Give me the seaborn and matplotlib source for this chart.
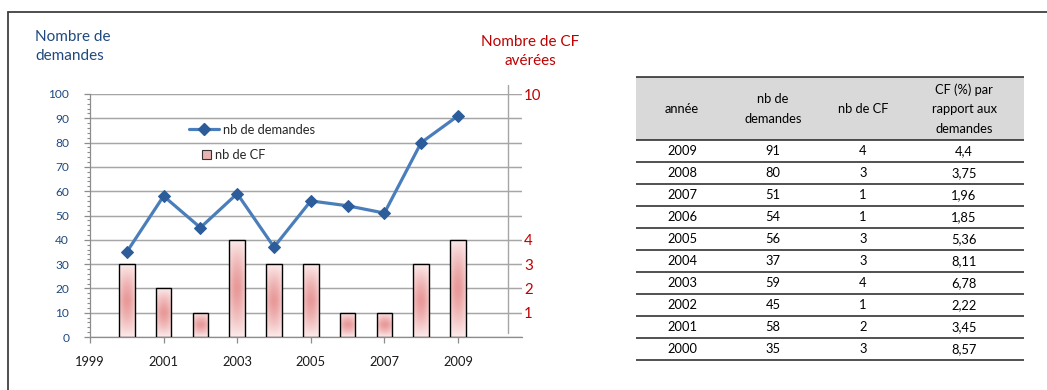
import numpy as np
import matplotlib
matplotlib.use("Agg")
import matplotlib.pyplot as plt
import seaborn as sns
import pandas as pd
from matplotlib.lines import Line2D
from matplotlib.patches import Rectangle, Patch
from matplotlib.ticker import MultipleLocator

# --- data ---------------------------------------------------------------
annees = [2000, 2001, 2002, 2003, 2004, 2005, 2006, 2007, 2008, 2009]
demandes = [35, 58, 45, 59, 37, 56, 54, 51, 80, 91]
nb_cf = [3, 2, 1, 4, 3, 3, 1, 1, 3, 4]
pct_cf = ["8,57", "3,45", "2,22", "6,78", "8,11", "5,36", "1,85", "1,96", "3,75", "4,4"]
x_ticks = [1999, 2001, 2003, 2005, 2007, 2009]
cf_tick_labels = [1, 2, 3, 4, 10]
table_headers = ["année", "nb de\ndemandes", "nb de CF", "CF (%) par\nrapport aux\ndemandes"]

sns.set_theme(style="white")
plt.rcParams["font.family"] = ["Lato", "DejaVu Sans"]

BLUE_TXT = "#1f497d"
RED_TXT = "#c00000"
GRID = "#a6a6a6"
AXIS = "#8c8c8c"

W, H = 1047, 390
fig = plt.figure(figsize=(W / 100, H / 100), dpi=100)


def fx(px):
    return px / W


def fy(py):
    return 1 - py / H


df = pd.DataFrame({"annee": annees, "demandes": demandes, "cf": nb_cf})

# --- bars: number of confirmed CF (right scale 0-10) ---------------------
ax = fig.add_axes([fx(90), fy(337), fx(522) - fx(90), fy(94) - fy(337)])
sns.barplot(data=df, x="annee", y="cf", native_scale=True, width=0.42, ax=ax,
            color="#eab3b3", edgecolor="black", linewidth=1.0, errorbar=None)

# soft pink fill, deeper in the middle of each bar
ny, nx = 80, 20
v = np.linspace(-1, 1, ny)[:, None]
u = np.linspace(-1, 1, nx)[None, :]
t = (1 - np.abs(v) ** 1.4) * (1 - 0.55 * np.abs(u) ** 2)
light = np.array([0.99, 0.92, 0.92])
deep = np.array([0.91, 0.60, 0.60])
grad = light + (deep - light) * t[..., None]
for p in list(ax.patches):
    x0, y0, w, h = p.get_x(), p.get_y(), p.get_width(), p.get_height()
    im = ax.imshow(grad, extent=[x0, x0 + w, y0, y0 + h], aspect="auto",
                   origin="lower", zorder=2.6, interpolation="bilinear")
    im.set_clip_path(p)
    p.set_facecolor("none")
    p.set_zorder(3)

# --- line: number of requests (left scale 0-100) -------------------------
axl = ax.twinx()
sns.lineplot(data=df, x="annee", y="demandes", ax=axl, color="#4a7ebb", lw=2.3,
             marker="D", markersize=6.5, markerfacecolor="#2c5d9a",
             markeredgecolor="#2c5d9a", zorder=5)

# the line axes sits underneath and carries the white background and grid
axl.set_zorder(ax.get_zorder() - 1)
axl.patch.set_visible(True)
axl.patch.set_facecolor("white")
ax.patch.set_visible(False)

# right-hand scale (bars)
ax.set_ylim(0, 10)
ax.set_yticks(range(0, 11))
ax.set_yticklabels([str(k) if k in cf_tick_labels else "" for k in range(11)])
ax.yaxis.set_ticks_position("right")
ax.yaxis.set_label_position("right")
ax.tick_params(axis="y", length=0, pad=1.5, labelcolor=RED_TXT, labelsize=10.8,
               labelright=True, labelleft=False)
ax.set_xticks(x_ticks)
ax.set_xticklabels([str(k) for k in x_ticks])
ax.tick_params(axis="x", direction="out", length=4, width=0.9, color=AXIS,
               pad=10, labelsize=9.3, labelcolor="#1a1a1a", bottom=True)
for side in ["top", "right", "left"]:
    ax.spines[side].set_visible(False)
ax.spines["bottom"].set_color(AXIS)
ax.spines["bottom"].set_linewidth(0.9)
ax.set_xlabel("")
ax.set_ylabel("")
ax.axvline(2010.36, ymin=0.016, ymax=1.037, color=GRID, lw=1.0, clip_on=False)

# left-hand scale (line)
axl.set_ylim(0, 100)
axl.yaxis.set_ticks_position("left")
axl.yaxis.set_label_position("left")
axl.yaxis.set_major_locator(MultipleLocator(10))
axl.yaxis.set_minor_locator(MultipleLocator(2))
axl.tick_params(axis="y", which="major", direction="out", length=4, width=0.9,
                color=AXIS, pad=11, labelsize=8.6, labelcolor=BLUE_TXT,
                left=True, right=False, labelleft=True, labelright=False)
axl.tick_params(axis="y", which="minor", direction="out", length=2.5, width=0.8,
                color=AXIS, left=True, right=False)
axl.yaxis.grid(True, which="major", color=GRID, lw=0.9)
for yv in range(0, 101, 10):
    axl.axhline(yv, color=GRID, lw=0.9, zorder=1)
for side in ["top", "right", "bottom"]:
    axl.spines[side].set_visible(False)
axl.spines["left"].set_visible(True)
axl.spines["left"].set_color(AXIS)
axl.spines["left"].set_linewidth(0.9)
axl.set_xlabel("")
axl.set_ylabel("")
ax.set_xlim(1999, 2010.74)

# legends
h_line = Line2D([], [], color="#4a7ebb", lw=2.3, marker="D", markersize=6.5,
                markerfacecolor="#2c5d9a", markeredgecolor="#2c5d9a")
h_bar = Patch(facecolor="#eab3b3", edgecolor="#333333", lw=0.8)
leg1 = ax.legend(handles=[h_line], labels=["nb de demandes"], loc="center left",
                 bbox_to_anchor=(0.229, 0.852), frameon=False, borderpad=0,
                 borderaxespad=0, handlelength=2.3, handletextpad=0.3,
                 fontsize=9.3)
ax.add_artist(leg1)
ax.legend(handles=[h_bar], labels=["nb de CF"], loc="center left",
          bbox_to_anchor=(0.259, 0.749), frameon=False, borderpad=0,
          borderaxespad=0, handlelength=0.7, handleheight=0.7,
          handletextpad=0.35, fontsize=9.3)

# axis titles
fig.text(fx(35), fy(46.5), "Nombre de\ndemandes", ha="left", va="center",
         fontsize=11, color=BLUE_TXT, linespacing=1.37)
fig.text(fx(530), fy(51.5), "Nombre de CF\navérées", ha="center", va="center",
         fontsize=11, color=RED_TXT, linespacing=1.37)

# --- summary table -------------------------------------------------------
axt = fig.add_axes([fx(636), fy(361), fx(1024) - fx(636), fy(76) - fy(361)])
axt.set_xlim(636, 1024)
axt.set_ylim(361, 76)
axt.axis("off")
axt.add_patch(Rectangle((636, 77), 388, 63, facecolor="#d9d9d9", edgecolor="none"))
col_x = [682, 773, 863, 964]
for cx, head in zip(col_x, table_headers):
    axt.text(cx, 109, head, ha="center", va="center", fontsize=9.3,
             color="black", linespacing=1.75)
row_h = 22
for i, (a, d, c, pc) in enumerate(zip(annees[::-1], demandes[::-1], nb_cf[::-1],
                                      pct_cf[::-1])):
    yc = 140 + row_h * i + row_h / 2
    for cx, val in zip(col_x, [a, d, c, pc]):
        axt.text(cx, yc, str(val), ha="center", va="center", fontsize=9.3,
                 color="black")
axt.plot([636, 1024], [77, 77], color="#222222", lw=1.1)
for k in range(11):
    yl = 140 + row_h * k
    axt.plot([636, 1024], [yl, yl], color="#222222", lw=1.1)

# chart frame
fig.add_artist(Line2D([fx(8), fx(8)], [fy(12), fy(390)], color="#404040", lw=1.3))
fig.add_artist(Line2D([fx(8), 1], [fy(12), fy(12)], color="#404040", lw=1.3))

fig.savefig("out.png", dpi=100)
